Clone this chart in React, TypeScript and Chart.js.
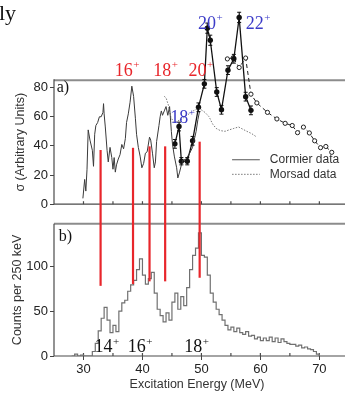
import { useEffect, useRef } from 'react';
import { Chart, registerables } from 'chart.js';

Chart.register(...registerables);

const SANS = "'Liberation Sans', Arial, Helvetica, sans-serif";
const SERIF = "'Liberation Serif', 'Times New Roman', Times, serif";

// ---------- Panel a) data ----------
// thin solid line ("Cormier data")
const cormierX = [29.9, 30.2, 30.4, 30.6, 30.8, 31.1, 31.5, 31.7, 31.9, 32.1, 32.4, 32.7, 33.0, 33.3, 33.4, 33.5, 33.7, 34.0, 34.2, 34.5, 34.8, 35.0, 35.2, 35.4, 35.6, 35.9, 36.2, 36.5, 36.8, 37.1, 37.3, 37.6, 37.9, 38.2, 38.5, 38.8, 39.0, 39.3, 39.6, 39.9, 40.2, 40.5, 40.8, 41.2, 41.4, 41.7, 42.0, 42.2, 42.4, 42.8, 43.0, 43.2, 43.4, 43.7, 44.0, 44.3, 44.6, 44.9, 45.1, 45.4, 45.8, 46.0, 46.3, 46.6, 46.8, 47.4, 48.0, 48.5, 49.1, 49.4, 49.7];
const cormierY = [4, 17, 9, 24, 51, 44, 37, 26, 48, 54, 56, 60, 60, 63, 69, 62, 53, 37, 29, 39, 32, 24, 32, 22, 27, 31, 34, 41, 38, 45, 56, 62, 70, 81, 74, 59, 48, 39, 33, 25, 28, 35, 36, 46, 44, 35, 25, 29, 43, 54, 60, 64, 61, 64, 67, 61, 67, 50, 41, 33, 25, 18, 22, 27, 30, 31, 35, 39, 50, 58, 64];

// dotted line ("Morsad data")
const morsadX = [43.7, 44.0, 44.4, 44.8, 45.3, 45.9, 46.5, 47.2, 47.9, 48.6, 49.3, 49.9, 50.6, 51.3, 51.9, 52.5, 53.2, 54.0, 54.7, 55.5, 56.3, 57.0, 57.7, 58.5, 59.4];
const morsadY = [74, 73, 68, 60, 56, 57, 58, 60, 62, 64, 65.5, 65, 63, 60, 55, 52, 50.5, 50, 51, 52, 53, 51.5, 50, 48.5, 46];

// filled points with error bars
const filledX = [45.5, 46.2, 46.6, 47.6, 48.5, 49.5, 50.5, 51.0, 51.5, 52.6, 53.4, 54.5, 55.5, 56.4, 57.5, 58.4];
const filledY = [41.4, 53.3, 29.5, 29.5, 43.5, 66.5, 82.6, 120.8, 112.5, 77, 64.8, 92, 99.8, 128.2, 73.8, 64.4];
const filledErr = [3, 3, 2.5, 2.5, 3, 3, 3, 3.5, 3.5, 3, 3, 3, 3, 3.5, 3, 3];

// open circles, dashed line
const openX = [54.4, 55.4, 56.4, 57.5, 58.4, 59.4, 61.2, 62.8, 64.2, 65.4, 66.3, 67.3, 68.3, 69.2, 70.2, 71.1, 72.1];
const openY = [99.7, 100.5, 93.8, 100.3, 75.5, 69.5, 63, 58.5, 55.5, 54, 49.1, 52.9, 48.9, 43.5, 38.8, 39.6, 35.6];

// red vertical markers: energy, top value in a), bottom value in b)
const redLineX = [32.9, 38.4, 41.2, 43.85, 49.7];
const redTopA = [37.2, 38.7, 39.7, 39.7, 42.9];
const redBottomB = [78, 80, 83, 83, 87];

// ---------- Panel b) data ----------
const histStart = 28;
const histBin = 0.5;
const histCounts = [0, 2, 0, 1, 0, 0, 0, 5, 14, 28, 42, 54, 40, 26, 34, 27, 50, 59, 62, 72, 79, 84, 96, 108, 90, 80, 86, 93, 70, 52, 45, 38, 48, 40, 60, 70, 52, 66, 56, 76, 96, 112, 120, 137, 112, 110, 90, 70, 60, 52, 46, 40, 34, 29, 32, 27, 31, 26, 24, 27, 22, 23, 19, 21, 17, 20, 17, 21, 16, 20, 15, 19, 16, 14, 13, 13, 11, 12, 9, 10, 8, 7, 5, 2];

// ---------- axes / ticks ----------
const xMin = 25;
const xMax = 73.5;
const aMax = 133.4;
const bMax = 147;
const frameTopA = 85;
const aTicks = [0, 20, 40, 60, 80];
const bTicks = [0, 50, 100];
const xTicks = [30, 35, 40, 45, 50, 55, 60, 65, 70];

// ---------- annotations (data coordinates) ----------
const redLabels = [
  { t: '16', x: 35.3, y: 88.3 },
  { t: '18', x: 41.85, y: 88.3 },
  { t: '20', x: 47.8, y: 88.3 },
];
const blueLabels = [
  { t: '20', x: 49.4, y: 120.5 },
  { t: '22', x: 57.5, y: 120.5 },
  { t: '18', x: 44.7, y: 55.6 },
];
const blackLabels = [
  { t: '14', x: 31.85, y: 4.5 },
  { t: '16', x: 37.5, y: 4.5 },
  { t: '18', x: 47.1, y: 4.5 },
];
const legendItems = [
  { t: 'Cormier data', y: 30.5, dash: [] as number[], color: '#555' },
  { t: 'Morsad data', y: 20.5, dash: [1.5, 1.5], color: '#777' },
];
const legendLineX = [55.2, 59.9];
const legendTextX = 61.6;

function seg(ctx: any, x1: number, y1: number, x2: number, y2: number) {
  ctx.beginPath();
  ctx.moveTo(x1, y1);
  ctx.lineTo(x2, y2);
  ctx.stroke();
}

function supLabel(ctx: any, text: string, x: number, yb: number, color: string, size: number) {
  ctx.font = `${size}px ${SERIF}`;
  ctx.fillStyle = color;
  ctx.textAlign = 'left';
  ctx.textBaseline = 'alphabetic';
  ctx.fillText(text, x, yb);
  const w = ctx.measureText(text).width;
  ctx.font = `${Math.round(size * 0.6)}px ${SERIF}`;
  ctx.fillText('+', x + w + 0.5, yb - size * 0.4);
}

function vTitle(ctx: any, text: string, x: number, y: number) {
  ctx.save();
  ctx.translate(x, y);
  ctx.rotate(-Math.PI / 2);
  ctx.font = `12.5px ${SANS}`;
  ctx.fillStyle = '#333';
  ctx.textAlign = 'center';
  ctx.textBaseline = 'middle';
  ctx.fillText(text, 0, 0);
  ctx.restore();
}

const panelAPlugin = {
  id: 'panelA',
  beforeDatasetsDraw(chart: any) {
    const { ctx, chartArea, scales } = chart;
    const { left, bottom } = chartArea;
    const x = scales.x;
    const y = scales.y;
    const W = chart.width;
    ctx.save();
    const yTop = y.getPixelForValue(frameTopA);
    ctx.strokeStyle = '#8c8c8c';
    ctx.lineWidth = 2;
    seg(ctx, left, yTop, W, yTop);
    ctx.strokeStyle = '#4a4a4a';
    ctx.lineWidth = 1.2;
    seg(ctx, left, yTop - 1, left, bottom);
    seg(ctx, left, bottom, W, bottom);
    for (const t of xTicks) {
      const px = x.getPixelForValue(t);
      seg(ctx, px, bottom, px, bottom - 3);
    }
    ctx.restore();
  },
  afterDatasetsDraw(chart: any) {
    const { ctx, chartArea, scales } = chart;
    const x = scales.x;
    const y = scales.y;
    const H = chart.height;
    ctx.save();
    // error bars
    ctx.strokeStyle = '#111';
    ctx.lineWidth = 1;
    filledX.forEach((e, i) => {
      const px = x.getPixelForValue(e);
      const y1 = y.getPixelForValue(filledY[i] - filledErr[i]);
      const y2 = y.getPixelForValue(filledY[i] + filledErr[i]);
      seg(ctx, px, y1, px, y2);
      seg(ctx, px - 2, y1, px + 2, y1);
      seg(ctx, px - 2, y2, px + 2, y2);
    });
    // red markers
    ctx.strokeStyle = '#e8262b';
    ctx.lineWidth = 2.2;
    redLineX.forEach((e, i) => {
      const px = x.getPixelForValue(e);
      seg(ctx, px, y.getPixelForValue(redTopA[i]), px, H);
    });
    // labels
    redLabels.forEach((l) => supLabel(ctx, l.t, x.getPixelForValue(l.x), y.getPixelForValue(l.y), '#e8262b', 18));
    blueLabels.forEach((l) => supLabel(ctx, l.t, x.getPixelForValue(l.x), y.getPixelForValue(l.y), '#3c3cc8', 18));
    ctx.font = `16px ${SERIF}`;
    ctx.fillStyle = '#111';
    ctx.textAlign = 'left';
    ctx.textBaseline = 'alphabetic';
    ctx.fillText('a)', x.getPixelForValue(25.45), y.getPixelForValue(76.8));
    ctx.font = `22px ${SERIF}`;
    ctx.fillText('ly', -1, 20);
    // legend
    legendItems.forEach((it) => {
      const py = y.getPixelForValue(it.y);
      ctx.strokeStyle = it.color;
      ctx.lineWidth = 1;
      ctx.setLineDash(it.dash);
      seg(ctx, x.getPixelForValue(legendLineX[0]), py, x.getPixelForValue(legendLineX[1]), py);
      ctx.setLineDash([]);
      ctx.font = `12px ${SANS}`;
      ctx.fillStyle = '#333';
      ctx.textBaseline = 'middle';
      ctx.fillText(it.t, x.getPixelForValue(legendTextX), py);
    });
    // y title
    vTitle(ctx, 'σ (Arbitrary Units)', 20.5, (y.getPixelForValue(frameTopA) + chartArea.bottom) / 2);
    ctx.restore();
  },
};

const panelBPlugin = {
  id: 'panelB',
  beforeDatasetsDraw(chart: any) {
    const { ctx, chartArea, scales } = chart;
    const { left, top, bottom } = chartArea;
    const x = scales.x;
    const W = chart.width;
    ctx.save();
    ctx.strokeStyle = '#8c8c8c';
    ctx.lineWidth = 2;
    seg(ctx, left, top, W, top);
    ctx.strokeStyle = '#4a4a4a';
    ctx.lineWidth = 1.2;
    seg(ctx, left, top, left, bottom);
    seg(ctx, left, bottom, W, bottom);
    for (const t of xTicks) {
      const px = x.getPixelForValue(t);
      seg(ctx, px, bottom, px, bottom - 3);
    }
    ctx.restore();
  },
  afterDatasetsDraw(chart: any) {
    const { ctx, chartArea, scales } = chart;
    const x = scales.x;
    const y = scales.y;
    ctx.save();
    ctx.strokeStyle = '#e8262b';
    ctx.lineWidth = 2.2;
    redLineX.forEach((e, i) => {
      const px = x.getPixelForValue(e);
      seg(ctx, px, 0, px, y.getPixelForValue(redBottomB[i]));
    });
    blackLabels.forEach((l) => supLabel(ctx, l.t, x.getPixelForValue(l.x), y.getPixelForValue(l.y), '#111', 18));
    ctx.font = `16px ${SERIF}`;
    ctx.fillStyle = '#111';
    ctx.textAlign = 'left';
    ctx.textBaseline = 'alphabetic';
    ctx.fillText('b)', x.getPixelForValue(25.8), y.getPixelForValue(128));
    vTitle(ctx, 'Counts per 250 keV', 17.5, (chartArea.top + chartArea.bottom) / 2);
    ctx.restore();
  },
};

export default function App() {
  const refA = useRef<HTMLCanvasElement>(null);
  const refB = useRef<HTMLCanvasElement>(null);

  useEffect(() => {
    Chart.defaults.font.family = SANS;
    const pts = (xs: number[], ys: number[]) => xs.map((v, i) => ({ x: v, y: ys[i] }));
    const histPts = histCounts.map((c, i) => ({ x: histStart + i * histBin, y: c }));
    histPts.push({ x: histStart + histCounts.length * histBin, y: 0 });

    const a = new Chart(refA.current as HTMLCanvasElement, {
      type: 'line',
      data: {
        datasets: [
          { data: pts(cormierX, cormierY), borderColor: '#3a3a3a', borderWidth: 1, pointRadius: 0, tension: 0 },
          { data: pts(morsadX, morsadY), borderColor: '#777', borderWidth: 1, borderDash: [1.5, 1.5], pointRadius: 0 },
          { data: pts(filledX, filledY), borderColor: '#111', borderWidth: 1.3, pointRadius: 2.7, pointBackgroundColor: '#111', pointBorderWidth: 0 },
          { data: pts(openX, openY), borderColor: '#222', borderWidth: 1, borderDash: [4, 3], pointRadius: 2.1, pointBackgroundColor: '#fff', pointBorderColor: '#222', pointBorderWidth: 1 },
        ],
      },
      options: {
        animation: false,
        responsive: false,
        maintainAspectRatio: false,
        layout: { padding: { left: 0, right: 5, top: 0, bottom: 1 } },
        plugins: { legend: { display: false }, tooltip: { enabled: false } },
        scales: {
          x: { type: 'linear', min: xMin, max: xMax, display: false },
          y: {
            type: 'linear',
            min: 0,
            max: aMax,
            position: 'left',
            afterFit: (s: any) => { s.width = 54; },
            afterBuildTicks: (s: any) => { s.ticks = aTicks.map((v) => ({ value: v })); },
            border: { display: false },
            grid: { drawOnChartArea: false, tickLength: 4, color: '#444' },
            ticks: { font: { size: 13, family: SANS }, color: '#222', padding: 2 },
          },
        },
      } as any,
      plugins: [panelAPlugin],
    });

    const b = new Chart(refB.current as HTMLCanvasElement, {
      type: 'line',
      data: {
        datasets: [
          { data: histPts, stepped: 'before', borderColor: '#707070', borderWidth: 1.2, pointRadius: 0 },
        ],
      },
      options: {
        animation: false,
        responsive: false,
        maintainAspectRatio: false,
        layout: { padding: { left: 0, right: 5, top: 3, bottom: 0 } },
        plugins: { legend: { display: false }, tooltip: { enabled: false } },
        scales: {
          x: {
            type: 'linear',
            min: xMin,
            max: xMax,
            position: 'bottom',
            afterFit: (s: any) => { s.height = 38; },
            afterBuildTicks: (s: any) => { s.ticks = xTicks.map((v) => ({ value: v })); },
            border: { display: false },
            grid: {
              drawOnChartArea: false,
              tickLength: 4,
              color: (c: any) => (c.tick && c.tick.value % 10 === 0 ? '#444' : 'rgba(0,0,0,0)'),
            },
            ticks: {
              font: { size: 13, family: SANS },
              color: '#222',
              padding: 2,
              maxRotation: 0,
              autoSkip: false,
              callback: (v: any) => (Number(v) % 10 === 0 ? String(v) : ''),
            },
            title: {
              display: true,
              text: 'Excitation Energy (MeV)',
              font: { size: 12.5, family: SANS },
              color: '#333',
              padding: { top: 0, bottom: 2 },
            },
          },
          y: {
            type: 'linear',
            min: 0,
            max: bMax,
            position: 'left',
            afterFit: (s: any) => { s.width = 54; },
            afterBuildTicks: (s: any) => { s.ticks = bTicks.map((v) => ({ value: v })); },
            border: { display: false },
            grid: { drawOnChartArea: false, tickLength: 4, color: '#444' },
            ticks: { font: { size: 13, family: SANS }, color: '#222', padding: 2 },
          },
        },
      } as any,
      plugins: [panelBPlugin],
    });

    return () => {
      a.destroy();
      b.destroy();
    };
  }, []);

  return (
    <div style={{ position: 'fixed', left: 0, top: 0, width: 345, height: 394, overflow: 'hidden', background: '#fff' }}>
      <canvas ref={refA} width={345} height={214} style={{ position: 'absolute', left: 0, top: 0, width: 345, height: 214 }} />
      <canvas ref={refB} width={345} height={180} style={{ position: 'absolute', left: 0, top: 214, width: 345, height: 180 }} />
    </div>
  );
}
